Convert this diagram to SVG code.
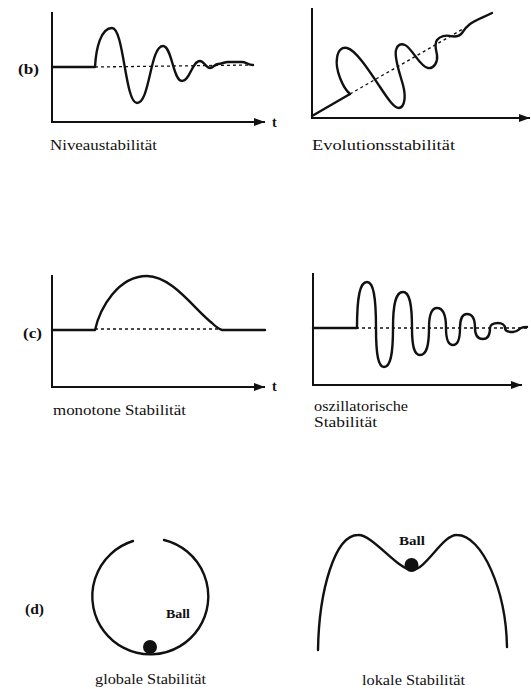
<svg xmlns="http://www.w3.org/2000/svg" width="531" height="689" viewBox="0 0 531 689">
<defs>
<marker id="arr" markerUnits="userSpaceOnUse" markerWidth="12" markerHeight="8" refX="11" refY="4" orient="auto">
<path d="M0,0 L11,4 L0,8 z" fill="#111"/>
</marker>
<style>
.ax{fill:none;stroke:#111;stroke-width:2}
.cv{fill:none;stroke:#111;stroke-width:2.4;stroke-linejoin:round;stroke-linecap:round}
.ds{fill:none;stroke:#111;stroke-width:1.3;stroke-dasharray:3 3}
.lb{font-family:"Liberation Serif",serif;font-size:15px;fill:#111}
.tag{font-family:"Liberation Serif",serif;font-size:14px;font-weight:bold;fill:#111}
.bl{font-family:"Liberation Serif",serif;font-size:13px;font-weight:bold;fill:#111}
</style>
</defs>
<rect width="531" height="689" fill="#fff"/>

<g id="panel-b-niveau">
<path class="ax" d="M52,12 V122 H265" marker-end="url(#arr)"/>
<line class="ds" x1="95" y1="67" x2="253" y2="65"/>
<path class="cv" d="M52,67 H95 C96,48 101,28 112,28 C124,28 125,103 137,103 C150,103 150,46 163,46 C172,46 173,81 182,81 C190,81 192,61 200,61 C204,61 206,68 210,68 C213,68 215,64 218,64 C222,64 224,62 228,62 L242,62 C246,62 248,65 253,65"/>
<text class="tag" x="18" y="74" textLength="21" lengthAdjust="spacingAndGlyphs">(b)</text>
<text class="tag" x="272" y="127">t</text>
<text class="lb" x="50" y="150" textLength="107" lengthAdjust="spacingAndGlyphs">Niveaustabilität</text>
</g>

<g id="panel-b-evolution">
<path class="ax" d="M312,8 V118 H530" marker-end="url(#arr)"/>
<line class="cv" x1="312" y1="116" x2="350" y2="94"/>
<line class="ds" x1="350" y1="94" x2="463" y2="29"/>
<path class="cv" d="M350,94 C343,88 335,70 337,58 C338,50 342,47 347,48 C356,50 370,72 380,87 C388,99 394,108 399,108 C405,107 406,96 403,85 C400,74 394,58 396,50 C397,45 401,43 405,45 C412,48 420,67 428,68 C434,69 438,62 437,55 C436,49 434,44 437,40 C440,36 446,35 450,36 C455,37 459,37 462,33 C464,30 466,27 470,24 C475,20 482,18 492,13"/>
<text class="lb" x="312" y="150" textLength="143" lengthAdjust="spacingAndGlyphs">Evolutionsstabilität</text>
</g>

<g id="panel-c-monoton">
<path class="ax" d="M52,275 V387 H265" marker-end="url(#arr)"/>
<line class="ds" x1="95" y1="329" x2="220" y2="329"/>
<path class="cv" d="M52,330 H95 C100,308 118,276 147,276 C172,276 195,310 212,323 C216,327 219,329 222,330 H265"/>
<text class="tag" x="23" y="338" textLength="19" lengthAdjust="spacingAndGlyphs">(c)</text>
<text class="tag" x="272" y="391">t</text>
<text class="lb" x="53" y="415" textLength="133" lengthAdjust="spacingAndGlyphs">monotone Stabilität</text>
</g>

<g id="panel-c-oszillatorisch">
<path class="ax" d="M313,273 V385 H522" marker-end="url(#arr)"/>
<line class="ds" x1="356" y1="328" x2="528" y2="328"/>
<path class="cv" d="M313,328 H357 C357,295.8 360,282 367,282 C373.3,282 376,295.8 376,328 C376,355.3 378.4,367 384,367 C390.3,367 393,355.3 393,328 C393,302.8 396,292 403,292 C409.3,292 412,302.8 412,328 C412,346.9 414.4,355 420,355 C426.3,355 429,346.9 429,328 C429,314 431.4,308 437,308 C443.3,308 446,314 446,328 C446,339.9 448.1,345 453,345 C457.9,345 460,339.9 460,328 C460,318.2 462.1,314 467,314 C472.6,314 475,318.2 475,328 C475,335.7 477.4,339 483,339 C487.9,339 490,335.7 490,328 C490,325 493.2,323 498,323 C502.2,323 505,325 505,328 C505,330.4 508.2,332 513,332 C517.2,332 519,329 521,328 C523,327 525,327 527,327"/>
<text class="lb" x="314" y="411" textLength="94" lengthAdjust="spacingAndGlyphs">oszillatorische</text>
<text class="lb" x="314" y="427" textLength="63" lengthAdjust="spacingAndGlyphs">Stabilität</text>
</g>

<g id="panel-d-global">
<path class="cv" d="M133,541 A58,58 0 1 0 164,540"/>
<circle cx="150" cy="647" r="7" fill="#111"/>
<text class="bl" x="166" y="618" textLength="24" lengthAdjust="spacingAndGlyphs">Ball</text>
<text class="tag" x="25" y="614" textLength="19" lengthAdjust="spacingAndGlyphs">(d)</text>
<text class="lb" x="95" y="684" textLength="111" lengthAdjust="spacingAndGlyphs">globale Stabilität</text>
</g>

<g id="panel-d-lokal">
<path class="cv" d="M318,650 C319,590 335,535 358,535 C372,534 398,570 412,570 C426,570 443,534 457,535 C482,535 506,590 507,647"/>
<circle cx="411.5" cy="565" r="7" fill="#111"/>
<text class="bl" x="399" y="545" textLength="26" lengthAdjust="spacingAndGlyphs">Ball</text>
<text class="lb" x="362" y="685" textLength="103" lengthAdjust="spacingAndGlyphs">lokale Stabilität</text>
</g>
</svg>
